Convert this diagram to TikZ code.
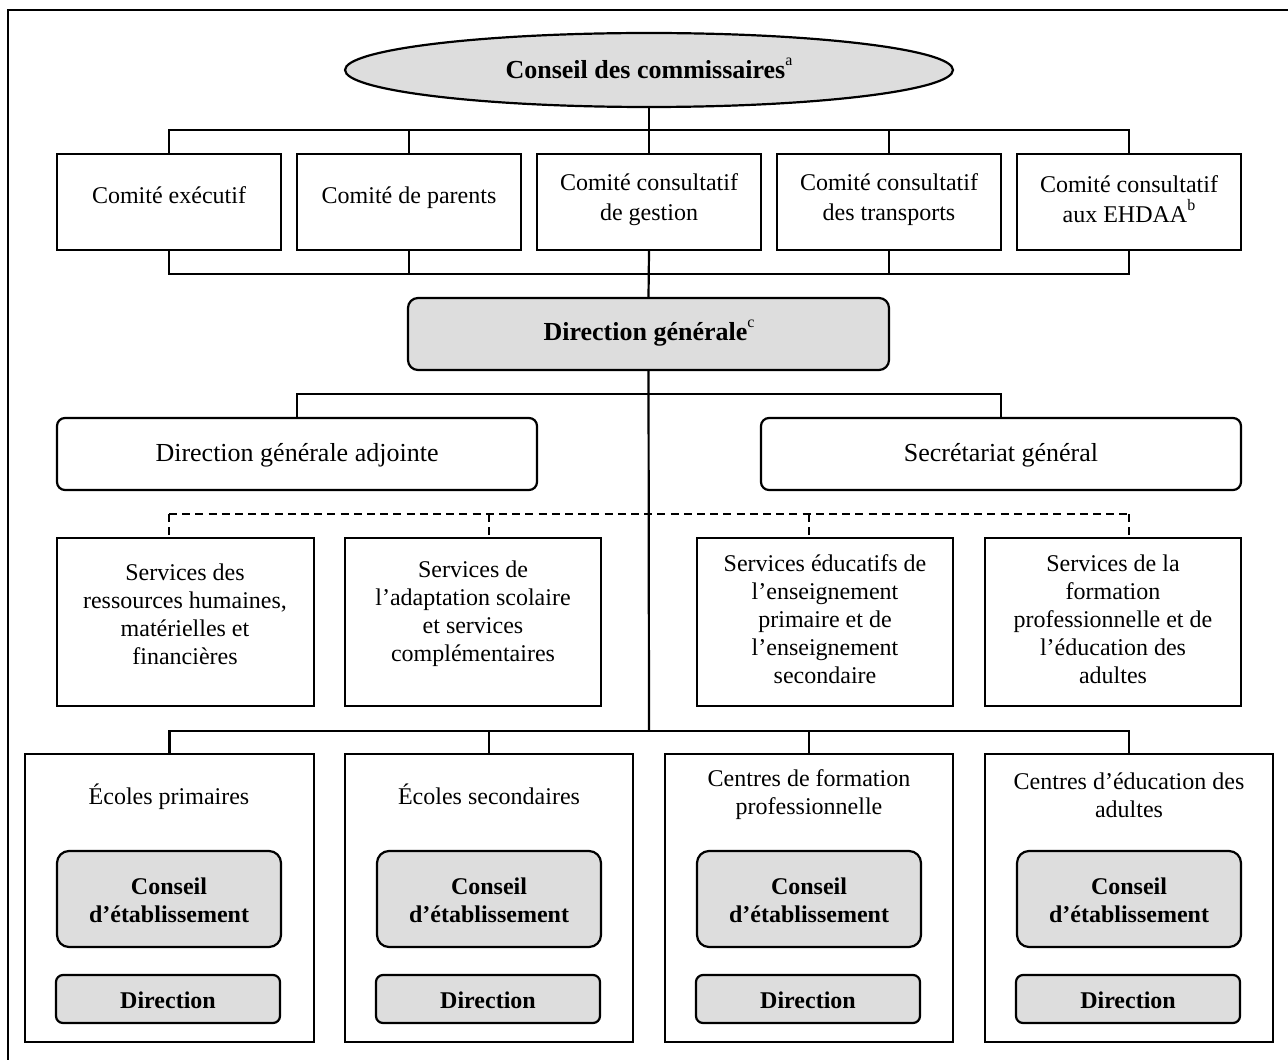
\documentclass[tikz,border=0pt]{standalone}
\usepackage{fontspec}
\setmainfont{Liberation Serif}
\usetikzlibrary{fit,shapes.geometric,calc}
\definecolor{boxgray}{HTML}{DDDDDD}
\newcommand{\notemark}[1]{\raisebox{0.5em}{\mdseries\fontsize{8}{8}\selectfont #1}}
\begin{document}
\begin{tikzpicture}[x=0.5pt,y=-0.5pt,line width=1.1pt,
  sqbox/.style={draw,inner sep=0pt,fill=white},
  graybox/.style={draw,inner sep=0pt,fill=boxgray},
  admbox/.style={draw,inner sep=0pt,rounded corners=4pt},
  txt/.style={inner sep=0pt,align=center,font=\fontsize{12}{14}\selectfont},
  cmtxt/.style={inner sep=0pt,align=center,font=\fontsize{12}{15}\selectfont},
  bigtxt/.style={inner sep=0pt,align=center,font=\fontsize{13}{15}\selectfont},
  boldtxt/.style={inner sep=0pt,align=center,font=\bfseries\fontsize{12}{14}\selectfont},
  headtxt/.style={inner sep=0pt,align=center,font=\bfseries\fontsize{13}{15}\selectfont},
  link/.style={line width=1.1pt},
  dotlink/.style={line width=1.1pt,dash pattern=on 4pt off 2.6pt}
]
\useasboundingbox (0,0) rectangle (1288,1059);

% outer frame (top and left edges)
\coordinate (frameTR) at (1290,10);
\coordinate (frameBL) at (8,1061);
\draw[line width=1pt] (frameTR) -| (frameBL);

% board
\node[ellipse,draw,fill=boxgray,inner sep=0pt,minimum width=304pt,minimum height=37pt] (cons) at (649,70) {};
\node[headtxt,anchor=base] (const) at (649,79) {Conseil des commissaires\notemark{a}};

% committees
\node[sqbox,fit={(57,154) (281,250)}] (c1) {};
\node[sqbox,fit={(297,154) (521,250)}] (c2) {};
\node[sqbox,fit={(537,154) (761,250)}] (c3) {};
\node[sqbox,fit={(777,154) (1001,250)}] (c4) {};
\node[sqbox,fit={(1017,154) (1241,250)}] (c5) {};
\node[cmtxt,anchor=base] (c1t) at (169,204) {Comité exécutif};
\node[cmtxt,anchor=base] (c2t) at (409,204) {Comité de parents};
\node[cmtxt] (c3t) at (649,200) {Comité consultatif\\de gestion};
\node[cmtxt] (c4t) at (889,200) {Comité consultatif\\des transports};
\node[cmtxt] (c5t) at (1129,199) {Comité consultatif\\aux EHDAA\notemark{b}};

\coordinate (topbar) at (649,130);
\coordinate (botbar) at (649,274);
\draw[link] (cons.south) -- (c3.north);
\draw[link] (c1.north) |- (topbar) -| (c5.north);
\draw[link] (c2.north) -- (c2.north |- topbar);
\draw[link] (c4.north) -- (c4.north |- topbar);
\draw[link] (c1.south) |- (botbar) -| (c5.south);
\draw[link] (c2.south) -- (c2.south |- botbar);
\draw[link] (c4.south) -- (c4.south |- botbar);

% general management
\node[graybox,rounded corners=5pt,fit={(408,298) (889,370)}] (dg) {};
\node[headtxt] (dgt) at (649,333) {Direction générale\notemark{c}};
\draw[link] (c3.south) -- (dg.north);

\coordinate (schoolbar) at (649,731);
\draw[link] (dg.south) -- (schoolbar);

% deputy management and secretariat
\node[admbox,fit={(57,418) (537,490)}] (dga) {};
\node[admbox,fit={(761,418) (1241,490)}] (sg) {};
\node[bigtxt,anchor=base] (dgat) at (297,461) {Direction générale adjointe};
\node[bigtxt,anchor=base] (sgt) at (1001,461) {Secrétariat général};
\coordinate (admbar) at (649,394);
\draw[link] (dga.north) |- (admbar) -| (sg.north);

% services
\node[sqbox,fit={(57,538) (314,706)}] (sA) {};
\node[sqbox,fit={(345,538) (601,706)}] (sB) {};
\node[sqbox,fit={(697,538) (953,706)}] (sC) {};
\node[sqbox,fit={(985,538) (1241,706)}] (sD) {};
\node[txt] (sAt) at (185,614) {Services des\\ressources humaines,\\matérielles et\\financières};
\node[txt] (sBt) at (473,614) {Services de\\l’adaptation scolaire\\et services\\complémentaires};
\node[txt] (sCt) at (825,619) {Services éducatifs de\\l’enseignement\\primaire et de\\l’enseignement\\secondaire};
\node[txt] (sDt) at (1113,619) {Services de la\\formation\\professionnelle et de\\l’éducation des\\adultes};

\coordinate (dropA) at (169,514);
\coordinate (dropB) at (489,514);
\coordinate (dropC) at (809,514);
\coordinate (dropD) at (1129,514);
\draw[dotlink] (dropA) -- (dropD);
\draw[dotlink] (dropA) -- (dropA |- sA.north);
\draw[dotlink] (dropB) -- (dropB |- sB.north);
\draw[dotlink] (dropC) -- (dropC |- sC.north);
\draw[dotlink] (dropD) -- (dropD |- sD.north);

% establishments
\node[sqbox,fit={(25,754) (314,1042)}] (e1) {};
\node[sqbox,fit={(345,754) (633,1042)}] (e2) {};
\node[sqbox,fit={(665,754) (953,1042)}] (e3) {};
\node[sqbox,fit={(985,754) (1273,1042)}] (e4) {};
\draw[link] (e1.north) |- (schoolbar) -| (e4.north);
\draw[link] (e2.north) -- (e2.north |- schoolbar);
\draw[link] (e3.north) -- (e3.north |- schoolbar);

\node[txt,anchor=base] (e1t) at (169,804) {Écoles primaires};
\node[txt,anchor=base] (e2t) at (489,804) {Écoles secondaires};
\node[txt] (e3t) at (809,795) {Centres de formation\\professionnelle};
\node[txt] (e4t) at (1129,795) {Centres d’éducation des\\adultes};

\foreach \i/\xl/\xr in {1/57/281, 2/377/601, 3/697/921, 4/1017/1241}{
  \node[graybox,rounded corners=6pt,fit={(\xl,851) (\xr,947)}] (ce\i) {};
  \node[boldtxt] (ce\i t) at ($(ce\i.center)+(0,1)$) {Conseil\\d’établissement};
  \node[graybox,rounded corners=3.5pt,fit={(\xl-1,975) (\xr-1,1023)}] (di\i) {};
  \node[boldtxt,anchor=base] (di\i t) at ($(di\i.center)+(0,9)$) {Direction};
}
\end{tikzpicture}
\end{document}
